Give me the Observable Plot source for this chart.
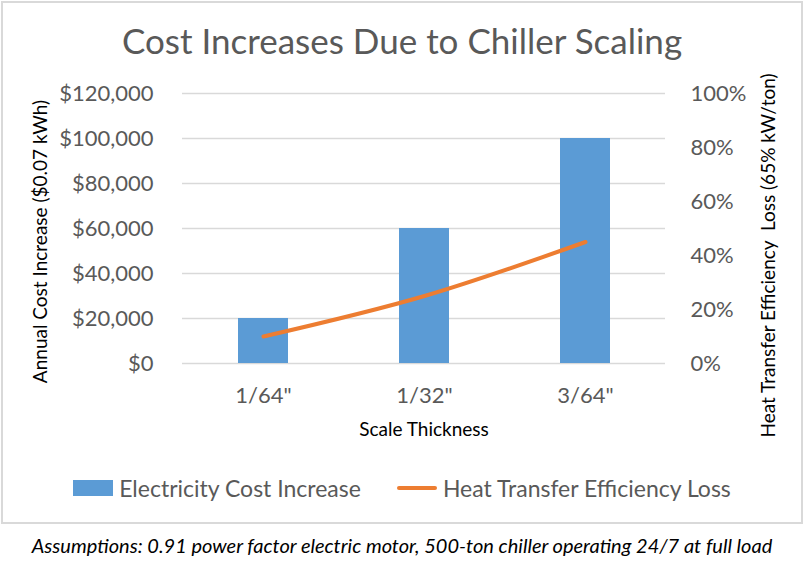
<!DOCTYPE html>
<html>
<head>
<meta charset="utf-8">
<script src="https://cdn.jsdelivr.net/npm/d3@7"></script>
<script src="https://cdn.jsdelivr.net/npm/@observablehq/plot@0.6"></script>
<style>
  html, body { margin: 0; padding: 0; background: #fff; }
  #wrap { position: relative; width: 804px; height: 568px; overflow: hidden; font-family: Lato, "Open Sans", sans-serif; }
  #border { position: absolute; left: 1px; top: 1px; width: 798px; height: 519px; border: 2px solid #d9d9d9; }
  #title { position: absolute; left: 0; width: 804px; top: 17px; text-align: center; font-size: 35px; color: #595959; line-height: 46px; }
  #chart { position: absolute; left: 0; top: 0; }
  #legend { position: absolute; left: 0; width: 804px; top: 474px; display: flex; justify-content: center; align-items: center; font-size: 23px; color: #595959; line-height: 28px; }
  .sw { display: inline-block; width: 40px; height: 16px; background: #5B9BD5; margin-right: 6px; }
  .ln { display: inline-block; width: 40px; height: 4px; background: #ED7D31; margin-right: 6px; margin-left: 36px; border-radius: 2px; }
  #caption { position: absolute; left: 0; width: 804px; top: 531px; text-align: center; font-size: 20px; font-style: italic; color: #000; line-height: 28px; }
</style>
</head>
<body>
<div id="wrap">
  <div id="border"></div>
  <div id="chart"></div>
  <div id="title">Cost Increases Due to Chiller Scaling</div>
  <div id="legend"><span class="sw"></span><span>Electricity Cost Increase</span><span class="ln"></span><span>Heat Transfer Efficiency Loss</span></div>
  <div id="caption">Assumptions: 0.91 power factor electric motor, 500-ton chiller operating 24/7 at full load</div>
</div>
<script>
const categories = ['1/64"', '1/32"', '3/64"'];
const costIncrease = [20000, 60000, 100000];
const efficiencyLoss = [10, 25, 45];
const costTicks = [0, 20000, 40000, 60000, 80000, 100000, 120000];
const pctTicks = [0, 20, 40, 60, 80, 100];
const costMax = 120000;
const pctMax = 100;
const k = costMax / pctMax;

const data = categories.map((c, i) => ({cat: c, cost: costIncrease[i], loss: efficiencyLoss[i]}));
const fmt = d3.format(",");

const chart = Plot.plot({
  width: 804,
  height: 440,
  marginLeft: 182,
  marginRight: 139,
  marginTop: 93,
  marginBottom: 77,
  style: {fontFamily: "Lato, 'Open Sans', sans-serif", color: "#595959", background: "transparent", overflow: "visible"},
  x: {domain: categories, paddingInner: 0.69, paddingOuter: 0.345, label: null},
  y: {domain: [0, costMax], label: null},
  marks: [
    Plot.ruleY(costTicks, {stroke: "#d9d9d9", strokeWidth: 1.3}),
    Plot.barY(data, {x: "cat", y: "cost", fill: "#5B9BD5"}),
    Plot.lineY(data, {x: "cat", y: d => d.loss * k, stroke: "#ED7D31", strokeWidth: 4, curve: "monotone-x", strokeLinecap: "round"}),
    Plot.axisY({anchor: "left", ticks: costTicks, tickFormat: d => "$" + fmt(d), tickSize: 0, tickPadding: 29, fontSize: 22, label: null}),
    Plot.axisY({anchor: "right", ticks: pctTicks.map(p => p * k), tickFormat: d => Math.round(d / k) + "%", tickSize: 0, tickPadding: 25, fontSize: 22, label: null}),
    Plot.axisX({anchor: "bottom", tickSize: 0, tickPadding: 24, fontSize: 22, label: null}),
    Plot.text(["Annual Cost Increase ($0.07 kWh)"], {text: d => d, frameAnchor: "left", textAnchor: "middle", dx: -142, dy: 13, rotate: -90, fontSize: 19, fill: "#000"}),
    Plot.text(["Heat Transfer Efficiency  Loss (65% kW/ton)"], {text: d => d, frameAnchor: "right", textAnchor: "middle", dx: 103, dy: 27, rotate: -90, fontSize: 19, fill: "#000"}),
    Plot.text(["Scale Thickness"], {text: d => d, frameAnchor: "bottom", dy: 72, fontSize: 19, fill: "#000"})
  ]
});
document.getElementById("chart").appendChild(chart);
</script>
</body>
</html>
